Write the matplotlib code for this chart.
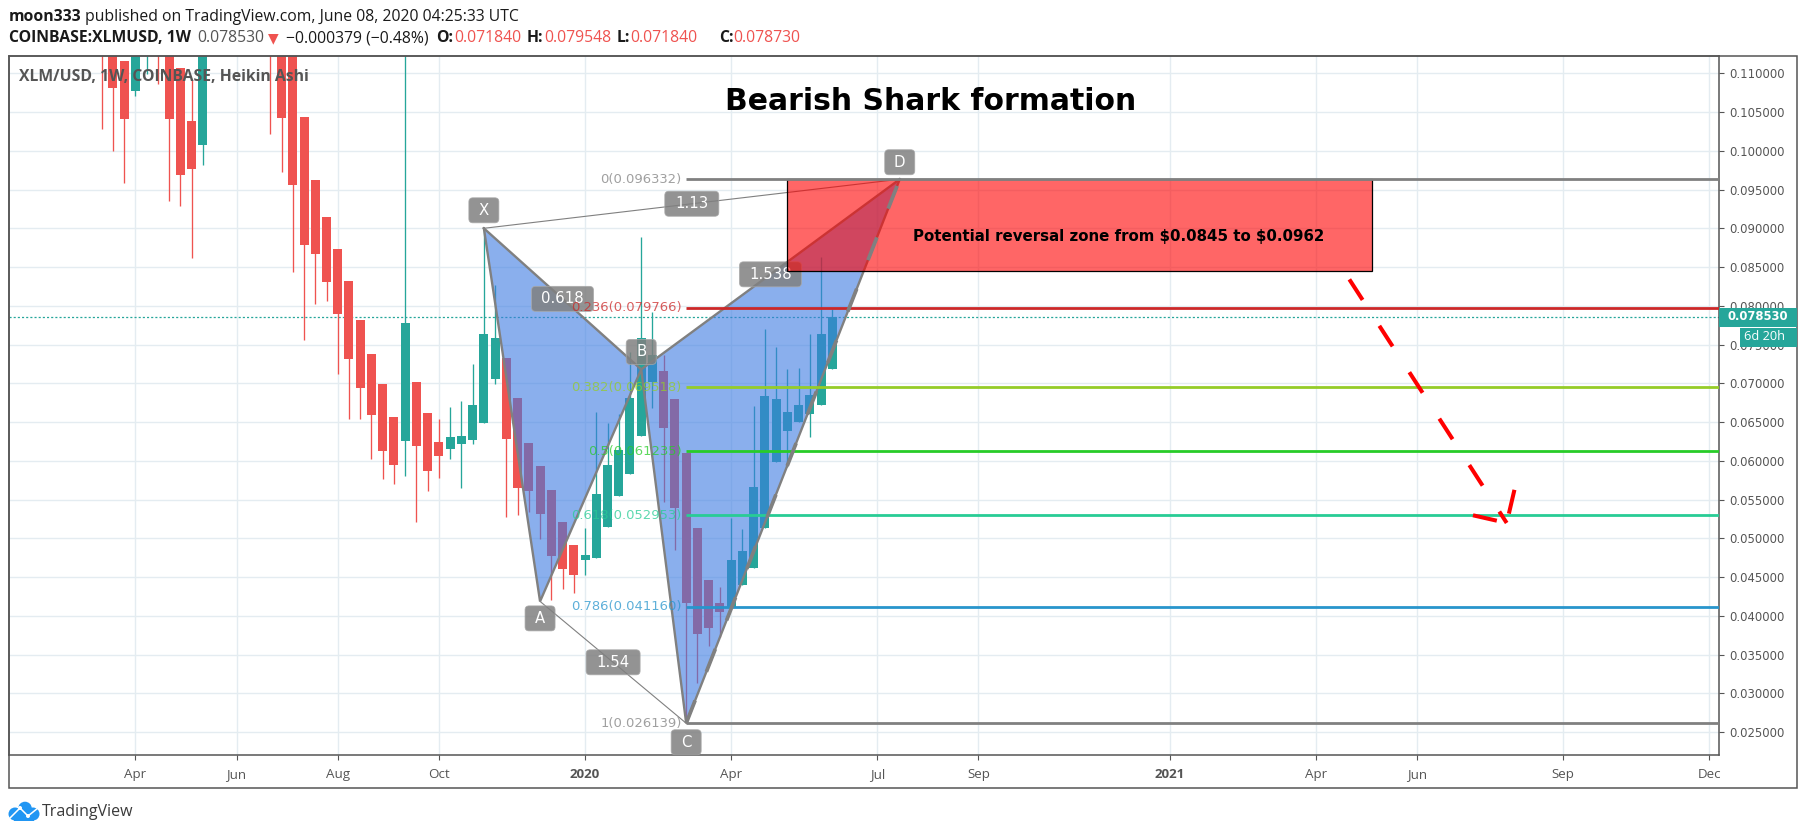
import matplotlib
matplotlib.use("Agg")
import matplotlib.pyplot as plt
import matplotlib.dates as mdates
import pandas as pnd
from matplotlib.patches import FancyBboxPatch, Rectangle, Polygon, Circle
from matplotlib.transforms import IdentityTransform

ANCHO, ALTO = 1805, 835
plt.rcParams["lines.scale_dashes"] = False

# velas semanales, de la mas antigua a la ultima (las de 2019 arriba se salen del grafico)
aperturas = [.1300, .1250, .11160, .10777, .1135, .1220, .1180, .11070, .10386, .10079,
             .1180, .1260, .1360, .1450, .1360, .1250, .1180, .1135, .10437, .09624,
             .09146, .08732, .08319, .07815, .07376, .06989, .06563, .06257, .07015, .06614,
             .06240, .06153, .06218, .06270, .06489, .07057, .07325, .06808, .06227, .05930,
             .05620, .05207, .04910, .04716, .04742, .05142, .05542, .05827, .06317, .07015,
             .07157, .06795, .06098, .05129, .04458, .04161, .04109, .04393, .04613, .05133,
             .05985, .06386, .06498, .06601, .06718, .07184]
maximos = [.1320, .1280, .11160, .1200, .1240, .1225, .1180, .11070, .10915, .1180,
           .1280, .1400, .1520, .1500, .1400, .1280, .1190, .1135, .10437, .09624,
           .09146, .08732, .08319, .07815, .07376, .06989, .06563, .1250, .07015, .06614,
           .06537, .06692, .06769, .07247, .09004, .08267, .07325, .06808, .06227, .05930,
           .05620, .05207, .04910, .05129, .06627, .06485, .06601, .07402, .08887, .07919,
           .07363, .06795, .06098, .05129, .04458, .04367, .05258, .05116, .06705, .07699,
           .07467, .07183, .07196, .07635, .08633, .079548]
minimos = [.10282, .10002, .09589, .10712, .10993, .10863, .09356, .09292, .08620, .09821,
           .1150, .1220, .1300, .1280, .1220, .10218, .09731, .08439, .07561, .08026,
           .08065, .07122, .06537, .06537, .06024, .05766, .05701, .05805, .05211, .05611,
           .05779, .06024, .05650, .06218, .06489, .06993, .05275, .05297, .05340, .04987,
           .04199, .04341, .04290, .04522, .04742, .05142, .05542, .05827, .06317, .06679,
           .05465, .04845, .026139, .03127, .03605, .03721, .04109, .04393, .04613, .05133,
           .05985, .05921, .06498, .06308, .06718, .07184]
cierres = [.1200, .10812, .10415, .1180, .1215, .1135, .10415, .09692, .09770, .1160,
           .1260, .1360, .1450, .1360, .1280, .1180, .10428, .09563, .08788, .08672,
           .08310, .07897, .07316, .06941, .06592, .06127, .05947, .07777, .06192, .05869,
           .06063, .06304, .06317, .06718, .07635, .07583, .06282, .05650, .05607, .05310,
           .04768, .04600, .04522, .04780, .05568, .05943, .06137, .06808, .07583, .07363,
           .06421, .05387, .04161, .03760, .03838, .04044, .04716, .04832, .05659, .06834,
           .06795, .06627, .06718, .06847, .07635, .07853]
fechas = pnd.date_range(end="2020-06-08", periods=len(cierres), freq="W-MON")

precio_actual = 0.07853

# eje x: primer lunes de cada periodo
ticks_fecha = ["2019-04-01", "2019-06-03", "2019-08-05", "2019-10-07", "2020-01-06", "2020-04-06",
               "2020-07-06", "2020-09-07", "2021-01-04", "2021-04-05", "2021-06-07", "2021-09-06",
               "2021-12-06"]
ticks_texto = ["Apr", "Jun", "Aug", "Oct", "2020", "Apr", "Jul", "Sep", "2021", "Apr", "Jun", "Sep", "Dec"]
ticks_precio = [0.025, 0.030, 0.035, 0.040, 0.045, 0.050, 0.055, 0.060, 0.065, 0.070, 0.075, 0.080,
                0.085, 0.090, 0.095, 0.100, 0.105, 0.110]

# patron XABCD
punto_nombre = ["X", "A", "B", "C", "D"]
punto_fecha = ["2019-11-04", "2019-12-09", "2020-02-10", "2020-03-09", "2020-07-20"]
punto_precio = [0.0900, 0.04186, 0.07179, 0.026139, 0.096332]

# fibonacci
fib_nivel = ["0", "0.236", "0.382", "0.5", "0.618", "0.786", "1"]
fib_precio = [0.096332, 0.079766, 0.069518, 0.061235, 0.052953, 0.041160, 0.026139]
fib_color = ["#808080", "#cc2828", "#95cc28", "#28cc28", "#28cc95", "#2895cc", "#808080"]

# zona de reversion
zona_fechas = ["2020-05-11", "2021-05-10"]
zona_precios = [0.0845, 0.096332]

# flecha discontinua roja
flecha_fechas = ["2021-04-26", "2021-08-02"]
flecha_precios = [0.08341, 0.05198]
punta_fechas = ["2021-07-12", "2021-08-02", "2021-08-07"]
punta_precios = [0.05297, 0.05198, 0.05642]

VERDE, ROJO = "#26A69A", "#EF5350"
GRILLA, BORDE, TEXTO = "#E4ECF1", "#555555", "#555555"
FUENTE = "Open Sans"

fig = plt.figure(figsize=(ANCHO / 100, ALTO / 100), dpi=100, facecolor="white")
ax = fig.add_axes([8.7 / ANCHO, (ALTO - 755.3) / ALTO, (1719.3 - 8.7) / ANCHO, (755.3 - 55.7) / ALTO])


def num(f):
    return mdates.date2num(pnd.Timestamp(f))


# 7 dias = 11.24 px, con la ultima vela en x = 832.3
dia_px = 11.24 / 7
ax.set_xlim(num("2020-06-08") - (832.3 - 8.7) / dia_px, num("2020-06-08") + (1719.3 - 832.3) / dia_px)
ax.set_ylim(0.05 - (755.3 - 538.3) / 7750, 0.05 + (538.3 - 55.7) / 7750)

ax.set_xticks([num(f) for f in ticks_fecha])
ax.set_xticklabels(ticks_texto, fontsize=9.6, color=TEXTO, family=FUENTE)
for lab in ax.get_xticklabels():
    if lab.get_text() in ("2020", "2021"):
        lab.set_fontweight("bold")
ax.yaxis.tick_right()
ax.set_yticks(ticks_precio)
ax.set_yticklabels([f"{p:.6f}" for p in ticks_precio], fontsize=8.4, color=TEXTO)
ax.tick_params(axis="both", length=3.4, width=0.8, color=BORDE)
ax.tick_params(axis="y", pad=3.5)
ax.tick_params(axis="x", pad=6)
ax.grid(True, color=GRILLA, lw=1)
ax.set_axisbelow(True)
for s in ax.spines.values():
    s.set_color(BORDE)
    s.set_linewidth(1.1)

# marco exterior
fig.add_artist(Rectangle((8.7 / ANCHO, (ALTO - 788.3) / ALTO), (1796.7 - 8.7) / ANCHO, (788.3 - 55.7) / ALTO,
                         fill=False, ec=BORDE, lw=1.1, transform=fig.transFigure))

# velas
xs = [num(f) for f in fechas]
colores = [VERDE if c >= a else ROJO for a, c in zip(aperturas, cierres)]
ax.vlines(xs, minimos, maximos, colors=colores, lw=0.95, zorder=2)
ax.bar(xs, [abs(c - a) for a, c in zip(aperturas, cierres)], bottom=[min(a, c) for a, c in zip(aperturas, cierres)],
       width=9 / dia_px, color=colores, linewidth=0, zorder=2.1)
ax.axhline(precio_actual, color=VERDE, lw=0.9, ls=(0, (1.5, 1.5)), zorder=1.5)

# patron
xa = [num(f) for f in punto_fecha]
ya = punto_precio
GRIS = "#808080"
ax.add_patch(Polygon([(xa[0], ya[0]), (xa[1], ya[1]), (xa[2], ya[2])], closed=True, fc="#3C7BE2", ec="none", alpha=0.6, zorder=3))
ax.add_patch(Polygon([(xa[2], ya[2]), (xa[3], ya[3]), (xa[4], ya[4])], closed=True, fc="#3C7BE2", ec="none", alpha=0.6, zorder=3))
ax.plot(xa, ya, color=GRIS, lw=1.7, zorder=3.2, solid_joinstyle="miter")
ax.plot([xa[0], xa[2]], [ya[0], ya[2]], color=GRIS, lw=1.7, zorder=3.2)
ax.plot([xa[2], xa[4]], [ya[2], ya[4]], color=GRIS, lw=1.7, zorder=3.2)
ax.plot([xa[0], xa[4]], [ya[0], ya[4]], color=GRIS, lw=0.8, zorder=3.2)
ax.plot([xa[1], xa[3]], [ya[1], ya[3]], color=GRIS, lw=0.8, zorder=3.2)


def a_pantalla(x, y):
    return ax.transData.transform((x, y))


def caja(cx, cy, w, texto):
    # cx, cy en pixeles de pantalla
    ax.add_patch(FancyBboxPatch((cx - w / 2, cy - 12.5), w, 25, boxstyle="round,pad=0,rounding_size=4",
                                fc=GRIS, ec="#A8A8A8", lw=0.6, alpha=0.85, transform=IdentityTransform(),
                                clip_on=False, zorder=3.5))
    ax.text(cx, cy, texto, color="white", fontsize=10.7, ha="center", va="center",
            transform=IdentityTransform(), zorder=3.6)


desplaza = [18, -17, 17.5, -19, 17]
for i, nombre in enumerate(punto_nombre):
    cx, cy = a_pantalla(xa[i], ya[i])
    caja(cx, cy + desplaza[i], 30, nombre)

razones = [(0, 4, "1.13"), (0, 2, "0.618"), (2, 4, "1.538"), (1, 3, "1.54")]
for i, j, texto in razones:
    cx, cy = a_pantalla((xa[i] + xa[j]) / 2, (ya[i] + ya[j]) / 2)
    caja(cx, cy, 62 if texto in ("0.618", "1.538") else 54, texto)

# zona roja
ax.add_patch(Rectangle((num(zona_fechas[0]), zona_precios[0]), num(zona_fechas[1]) - num(zona_fechas[0]),
                       zona_precios[1] - zona_precios[0], fc=(1, 0, 0, 0.6), ec="black", lw=0.9, zorder=4))
cx_zona = num("2020-06-08") + (1119 - 832.3) / dia_px
ax.text(cx_zona, 0.0890, "Potential reversal zone from \\$0.0845 to \\$0.0962", fontsize=10.85,
        fontweight="bold", color="black", ha="center", va="center", zorder=8)

# niveles fibonacci
for n, p, c in zip(fib_nivel, fib_precio, fib_color):
    ax.plot([xa[3], ax.get_xlim()[1]], [p, p], color=c, lw=2, zorder=5, solid_capstyle="butt")
    xt, yt = a_pantalla(xa[3], p)
    ax.text(xt - 4.5, yt, f"{n}({p:.6f})", color=c, alpha=0.75, fontsize=9.45, ha="right", va="center",
            transform=IdentityTransform(), zorder=7)

# tramo C-D discontinuo grueso
ax.plot([xa[3], xa[4]], [ya[3], ya[4]], color=GRIS, lw=2.7, ls=(0, (17.6, 22.2)), zorder=6, dash_capstyle="butt")

# flecha roja
ax.plot([num(f) for f in flecha_fechas], flecha_precios, color="#FF0000", lw=2.9, ls=(0, (17.6, 22.2)), zorder=6,
        dash_capstyle="butt")
ax.plot([num(f) for f in punta_fechas], punta_precios, color="#FF0000", lw=2.9, ls=(0, (17.6, 14.2)), zorder=6,
        dash_capstyle="butt", solid_joinstyle="miter")

# etiquetas de precio a la derecha
fig.add_artist(Rectangle((1719.3 / ANCHO, (ALTO - 326.7) / ALTO), (1797 - 1719.3) / ANCHO, 18.7 / ALTO, fc=VERDE, ec="none"))
fig.add_artist(Rectangle((1740 / ANCHO, (ALTO - 346.7) / ALTO), (1797 - 1740) / ANCHO, 18.7 / ALTO, fc=VERDE, ec="none"))
fig.text(1758 / ANCHO, (ALTO - 316.5) / ALTO, f"{precio_actual:.6f}", color="white", fontsize=8.4, ha="center", va="center", fontweight="bold")
fig.text(1765 / ANCHO, (ALTO - 337) / ALTO, "6d 20h", color="white", fontsize=9.2, family=FUENTE, ha="center", va="center")


def texto_px(x, y, s, **kw):
    kw.setdefault("family", FUENTE)
    kw.setdefault("va", "center")
    return fig.text(x / ANCHO, (ALTO - y) / ALTO, s, **kw)


# titulos
t_neg = "#1A1A1A"
TAM = 11.3
texto_px(8.7, 17, "moon333", fontsize=TAM, fontweight="bold", color=t_neg)
texto_px(84.6, 17, "published on TradingView.com, June 08, 2020 04:25:33 UTC", fontsize=TAM, color=t_neg)
texto_px(8.7, 38.5, "COINBASE:XLMUSD, 1W", fontsize=TAM, fontweight="bold", color=t_neg)
texto_px(197, 38.5, "0.078530", fontsize=TAM, color=TEXTO)
texto_px(268, 38, "\u25bc", fontsize=10, color=ROJO, family="DejaVu Sans")
texto_px(286, 38.5, "\u22120.000379 (\u22120.48%)", fontsize=TAM, color=t_neg)
for x, s in [(436, "O:"), (527, "H:"), (617, "L:"), (719, "C:")]:
    texto_px(x, 38.5, s, fontsize=TAM, fontweight="bold", color=t_neg)
for x, s in [(454, "0.071840"), (544, "0.079548"), (630, "0.071840"), (733, "0.078730")]:
    texto_px(x, 38.5, s, fontsize=TAM, color=ROJO)

ax.text(19, ALTO - 77, "XLM/USD, 1W, COINBASE, Heikin Ashi", fontsize=11.3, fontweight="bold", color="#555555",
        family=FUENTE, va="center", transform=IdentityTransform(), zorder=8)
ax.text(931, ALTO - 102, "Bearish Shark formation", fontsize=21.5, fontweight="bold", color="black",
        ha="center", va="center", transform=IdentityTransform(), zorder=8)

# logo
azul = "#2196F3"
for cx, cy, r in [(15, 814, 6.5), (25, 808.5, 6.8), (33, 814, 6.5), (22, 815, 6)]:
    fig.add_artist(Circle((cx, ALTO - cy), r, fc=azul, ec="none", transform=IdentityTransform()))
fig.add_artist(Rectangle((14, ALTO - 821), 20, 8, fc=azul, ec="none", transform=IdentityTransform()))
fig.add_artist(plt.Line2D([10, 20, 28, 38], [ALTO - 818, ALTO - 808, ALTO - 816, ALTO - 808], color="white", lw=1.1,
                          transform=IdentityTransform()))
for cx, cy in [(20, 808), (28, 816)]:
    fig.add_artist(Circle((cx, ALTO - cy), 2, fc="white", ec="none", transform=IdentityTransform()))
texto_px(42, 811.5, "TradingView", fontsize=11.5, color="#3A3A3A")

fig.savefig("out.png", dpi=100)
